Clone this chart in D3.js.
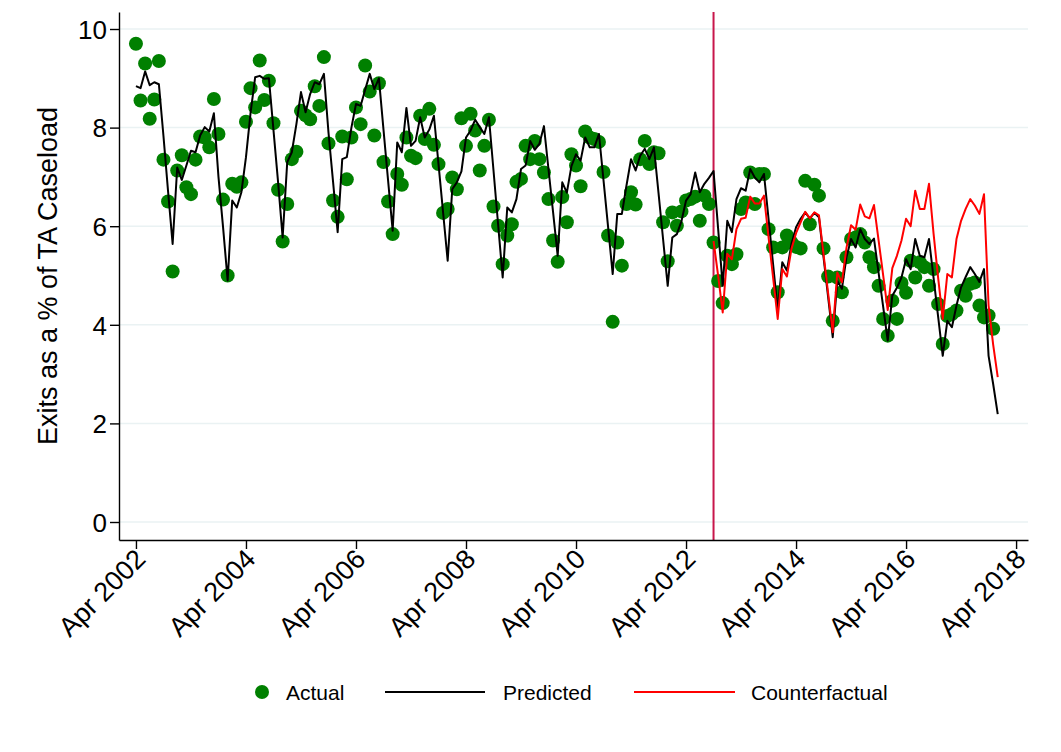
<!DOCTYPE html>
<html>
<head>
<meta charset="utf-8">
<script src="https://cdn.jsdelivr.net/npm/d3@7"></script>
<style>
  body { margin: 0; background: #fff; }
  svg { display: block; }
  text { font-family: "Liberation Sans", Arial, Helvetica, sans-serif; fill: #000; }
</style>
</head>
<body>
<svg id="chart" width="1061" height="752"></svg>
<script>
// Monthly series, index 0 = Apr 2002
const actual = [
  9.70, 8.55, 9.30, 8.18, 8.57, 9.35, 7.35, 6.50, 5.08, 7.13, 7.44, 6.79,
  6.65, 7.35, 7.82, 7.80, 7.60, 8.58, 7.87, 6.54, 5.00, 6.86, 6.80, 6.89,
  8.12, 8.80, 8.41, 9.36, 8.56, 8.95, 8.09, 6.74, 5.69, 6.45, 7.36, 7.51,
  8.34, 8.25, 8.17, 8.84, 8.44, 9.43, 7.68, 6.52, 6.19, 7.82, 6.95, 7.80,
  8.41, 8.07, 9.26, 8.73, 7.84, 8.90, 7.30, 6.50, 5.84, 7.06, 6.84, 7.80,
  7.43, 7.38, 8.24, 7.77, 8.38, 7.65, 7.26, 6.27, 6.35, 6.99, 6.75, 8.19,
  7.63, 8.28, 7.94, 7.13, 7.63, 8.16, 6.40, 6.01, 5.23, 5.81, 6.04, 6.90,
  6.96, 7.63, 7.36, 7.73, 7.36, 7.09, 6.55, 5.71, 5.28, 6.59, 6.08, 7.46,
  7.23, 6.81, 7.92, 7.80, 7.77, 7.71, 7.10, 5.81, 4.06, 5.67, 5.20, 6.45,
  6.69, 6.44, 7.36, 7.73, 7.26, 7.50, 7.48, 6.08, 5.29, 6.28, 6.01, 6.30,
  6.52, 6.55, 6.60, 6.11, 6.62, 6.45, 5.67, 4.89, 4.44, 5.40, 5.23, 5.43,
  6.35, 6.48, 7.09, 6.45, 7.06, 7.06, 5.94, 5.57, 4.66, 5.57, 5.81, 5.67,
  5.58, 5.55, 6.92, 6.04, 6.84, 6.62, 5.55, 4.98, 4.08, 4.96, 4.66, 5.37,
  5.74, 5.77, 5.84, 5.67, 5.37, 5.17, 4.79, 4.12, 3.78, 4.49, 4.12, 4.85,
  4.65, 5.30, 4.96, 5.27, 5.17, 4.79, 5.13, 4.42, 3.61, 4.18, 4.22, 4.29,
  4.69, 4.59, 4.83, 4.86, 4.39, 4.15, 4.19, 3.92
];

const predicted = [
  8.84, 8.80, 9.14, 8.86, 8.92, 8.88, 7.83, 6.71, 5.64, 7.19, 6.94, 7.23,
  7.53, 7.50, 7.84, 8.01, 7.92, 8.29, 7.00, 5.98, 4.90, 6.52, 6.38, 6.69,
  7.40, 8.30, 9.02, 9.05, 8.99, 9.00, 7.95, 6.90, 5.77, 7.30, 7.50, 8.07,
  8.72, 8.31, 8.68, 8.92, 8.88, 9.09, 7.90, 6.90, 5.88, 7.36, 7.40, 8.00,
  8.48, 8.44, 8.77, 9.09, 8.78, 9.00, 7.96, 6.93, 5.91, 7.70, 7.50, 8.40,
  7.63, 7.73, 8.21, 7.80, 7.96, 8.24, 7.26, 6.28, 5.30, 6.75, 6.89, 7.11,
  7.80, 7.94, 8.16, 8.01, 7.87, 8.21, 7.13, 6.04, 4.96, 6.38, 6.28, 6.55,
  7.16, 7.23, 7.73, 7.55, 7.67, 8.03, 7.15, 6.28, 5.40, 6.89, 6.68, 7.22,
  7.46, 7.33, 7.80, 7.60, 7.60, 7.87, 6.93, 5.98, 5.03, 6.25, 6.25, 6.82,
  7.36, 7.13, 7.43, 7.57, 7.36, 7.60, 6.67, 5.73, 4.79, 5.77, 5.84, 6.10,
  6.52, 6.65, 7.09, 6.69, 6.86, 6.98, 7.12, 5.95, 4.79, 6.11, 5.88, 6.55,
  6.77, 6.72, 7.16, 6.99, 6.89, 7.06, 6.15, 5.22, 4.30, 5.27, 5.10, 5.64,
  5.98, 6.15, 6.28, 6.16, 6.27, 6.18, 5.37, 4.56, 3.75, 4.89, 4.73, 5.37,
  5.74, 5.57, 5.94, 5.74, 5.64, 5.75, 5.06, 4.37, 3.68, 4.59, 4.75, 4.96,
  5.33, 5.13, 5.74, 5.40, 5.37, 5.74, 4.95, 4.16, 3.37, 4.08, 3.95, 4.39,
  4.76, 4.97, 5.17, 5.03, 4.87, 5.13, 3.37, 2.80, 2.19
];

// Counterfactual runs from the policy month (Oct 2012, index 126) onward
const counterfactualStart = 126;
const counterfactual = [
  5.70, 5.00, 4.25, 5.44, 5.33, 5.94,
  6.15, 6.17, 6.60, 6.46, 6.46, 6.62, 5.78, 4.95, 4.12, 5.13, 4.98, 5.54,
  5.86, 6.08, 6.29, 6.16, 6.28, 6.22, 5.43, 4.64, 3.85, 5.06, 4.86, 5.56,
  6.02, 5.93, 6.44, 6.20, 6.16, 6.43, 5.72, 5.01, 4.30, 5.15, 5.40, 5.71,
  6.15, 6.00, 6.72, 6.35, 6.35, 6.86, 5.85, 4.95, 4.12, 5.03, 4.96, 5.74,
  6.11, 6.35, 6.55, 6.42, 6.25, 6.65, 4.39, 3.60, 2.94
];

const policyMonth = 126;
const yTicks = [0, 2, 4, 6, 8, 10];
const xTickMonths = [0, 24, 48, 72, 96, 120, 144, 168, 192];
const xTickLabels = ["Apr 2002", "Apr 2004", "Apr 2006", "Apr 2008", "Apr 2010",
                     "Apr 2012", "Apr 2014", "Apr 2016", "Apr 2018"];
const yTitle = "Exits as a % of TA Caseload";
const legendLabels = ["Actual", "Predicted", "Counterfactual"];

// Layout
const plot = { left: 119, right: 1028, top: 12, bottom: 540 };
const colors = { actual: "#008000", predicted: "#000000", counterfactual: "#ff0000",
                 policy: "#c8164b", grid: "#eaf2f3" };

const svg = d3.select("#chart");

const x = d3.scaleLinear().domain([-3.7, 194.6]).range([plot.left, plot.right]);
const y = d3.scaleLinear().domain([-0.365, 10.345]).range([plot.bottom, plot.top]);

// Gridlines
svg.append("g").selectAll("line").data(yTicks).join("line")
  .attr("x1", plot.left).attr("x2", plot.right)
  .attr("y1", d => y(d)).attr("y2", d => y(d))
  .attr("stroke", colors.grid).attr("stroke-width", 1.5);

// Policy line
svg.append("line")
  .attr("x1", x(policyMonth)).attr("x2", x(policyMonth))
  .attr("y1", plot.top).attr("y2", plot.bottom)
  .attr("stroke", colors.policy).attr("stroke-width", 2);

// Axes
const yAxis = svg.append("g").attr("transform", `translate(${plot.left},0)`)
  .call(d3.axisLeft(y).tickValues(yTicks).tickSize(9).tickSizeOuter(0).tickPadding(3));
yAxis.selectAll("text").style("font-size", "26px").attr("dy", "0.36em");

const xAxis = svg.append("g").attr("transform", `translate(0,${plot.bottom})`)
  .call(d3.axisBottom(x).tickValues(xTickMonths).tickSize(9).tickSizeOuter(0)
        .tickFormat((d, i) => xTickLabels[i]));
xAxis.selectAll("text")
  .style("font-size", "27px")
  .attr("text-anchor", "end")
  .attr("transform", "translate(4,14) rotate(-45)")
  .attr("dy", "0.35em").attr("dx", "0").attr("y", 0).attr("x", 0);

[yAxis, xAxis].forEach(g => {
  g.select(".domain").attr("stroke", "#000").attr("stroke-width", 1.4);
  g.selectAll(".tick line").attr("stroke", "#000").attr("stroke-width", 1.4);
});

// Y title
svg.append("text")
  .attr("transform", `translate(57,${(plot.top + plot.bottom) / 2}) rotate(-90)`)
  .attr("text-anchor", "middle")
  .style("font-size", "27px")
  .text(yTitle);

// Actual points
svg.append("g").selectAll("circle").data(actual).join("circle")
  .attr("cx", (d, i) => x(i)).attr("cy", d => y(d)).attr("r", 7)
  .attr("fill", colors.actual);

// Predicted line
const predLine = d3.line().x((d, i) => x(i)).y(d => y(d));
svg.append("path").datum(predicted)
  .attr("d", predLine).attr("fill", "none")
  .attr("stroke", colors.predicted).attr("stroke-width", 2).attr("stroke-linejoin", "round");

// Counterfactual line
const cfLine = d3.line().x((d, i) => x(i + counterfactualStart)).y(d => y(d));
svg.append("path").datum(counterfactual)
  .attr("d", cfLine).attr("fill", "none")
  .attr("stroke", colors.counterfactual).attr("stroke-width", 2).attr("stroke-linejoin", "round");

// Legend
const legY = 692;
const leg = svg.append("g").style("font-size", "21px");
leg.append("circle").attr("cx", 262).attr("cy", legY).attr("r", 7).attr("fill", colors.actual);
leg.append("text").attr("x", 286).attr("y", legY).attr("dy", "0.36em").text(legendLabels[0]);
leg.append("line").attr("x1", 385).attr("x2", 485).attr("y1", legY).attr("y2", legY)
  .attr("stroke", colors.predicted).attr("stroke-width", 2);
leg.append("text").attr("x", 503).attr("y", legY).attr("dy", "0.36em").text(legendLabels[1]);
leg.append("line").attr("x1", 634).attr("x2", 735).attr("y1", legY).attr("y2", legY)
  .attr("stroke", colors.counterfactual).attr("stroke-width", 2);
leg.append("text").attr("x", 751).attr("y", legY).attr("dy", "0.36em").text(legendLabels[2]);
</script>
</body>
</html>
